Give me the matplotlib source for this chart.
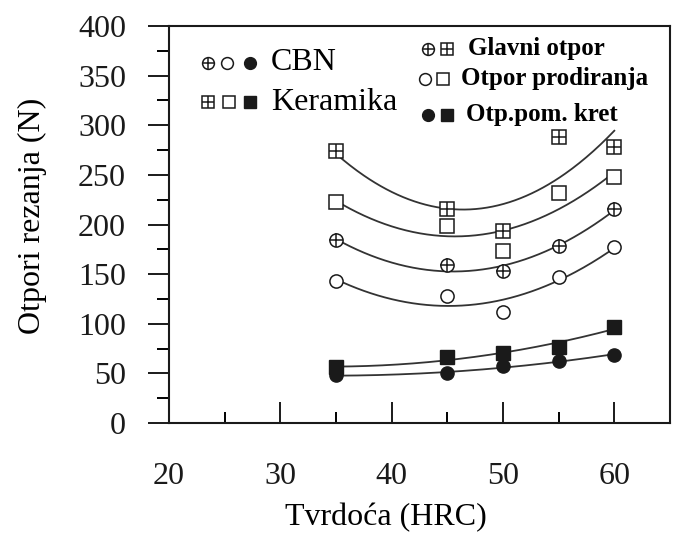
import numpy as np
import matplotlib
matplotlib.use("Agg")
import matplotlib.pyplot as plt
from matplotlib.ticker import MultipleLocator

# ---- data ----
hrc = [35, 45, 50, 55, 60]
cbn_glavni = [184, 159, 153, 178, 216]
cbn_prodiranja = [143, 128, 112, 147, 177]
cbn_pomocni = [48, 50, 57, 62, 69]
ker_glavni = [274, 216, 193, 288, 278]
ker_prodiranja = [223, 198, 173, 232, 248]
ker_pomocni = [56, 66, 71, 77, 97]

xticks = [20, 30, 40, 50, 60]
yticks = [0, 50, 100, 150, 200, 250, 300, 350, 400]
xlabel = "Tvrdoća (HRC)"
ylabel = "Otpori rezanja (N)"

SERIF = ["Liberation Serif", "DejaVu Serif"]
plt.rcParams["font.family"] = SERIF
C = "#1a1a1a"

fig = plt.figure(figsize=(6.73, 5.34), dpi=100)
ax = fig.add_axes([169/673, 1-423/534, 501/673, 397/534])
ax.set_xlim(20, 65)
ax.set_ylim(0, 400)

xs = np.linspace(min(hrc), max(hrc), 200)

def fit_curve(y):
    p = np.polyfit(hrc, y, 2)
    ax.plot(xs, np.polyval(p, xs), color="#333333", lw=1.3, zorder=2)

ms = 9.5
def circ_plus(x, y, s=ms, **kw):
    ax.plot(x, y, ls="none", marker="o", ms=s, mfc="white", mec=C, mew=1.1, zorder=3, **kw)
    ax.plot(x, y, ls="none", marker="+", ms=s, mec=C, mew=1.1, zorder=4, **kw)

def sq_plus(x, y, s=ms, **kw):
    ax.plot(x, y, ls="none", marker="s", ms=s, mfc="white", mec=C, mew=1.1, zorder=3, **kw)
    ax.plot(x, y, ls="none", marker="+", ms=s, mec=C, mew=1.1, zorder=4, **kw)

def open_m(x, y, m, s=ms, **kw):
    ax.plot(x, y, ls="none", marker=m, ms=s, mfc="white", mec=C, mew=1.1, zorder=3, **kw)

def fill_m(x, y, m, s=ms, **kw):
    ax.plot(x, y, ls="none", marker=m, ms=s, mfc=C, mec=C, mew=1.0, zorder=3, **kw)

for ser in [cbn_glavni, cbn_prodiranja, cbn_pomocni, ker_glavni, ker_prodiranja, ker_pomocni]:
    fit_curve(ser)

circ_plus(hrc, cbn_glavni)
open_m(hrc, cbn_prodiranja, "o")
fill_m(hrc, cbn_pomocni, "o")
sq_plus(hrc, ker_glavni)
open_m(hrc, ker_prodiranja, "s")
fill_m(hrc, ker_pomocni, "s")

# ---- legend (drawn as text + markers) ----
T = dict(transform=ax.transAxes, clip_on=False)
ls_ = 8.5
def ax_pt(px, py):
    return (px-169)/501, (423-py)/397

# left legend
x1, y1 = ax_pt(208, 63); x2, _ = ax_pt(227, 63); x3, _ = ax_pt(250, 63)
circ_plus([x1], [y1], s=ls_, **T); open_m([x2], [y1], "o", s=ls_, **T); fill_m([x3], [y1], "o", s=ls_, **T)
tx, _ = ax_pt(271, 63)
ax.text(tx, y1, "CBN", transform=ax.transAxes, fontsize=23, va="center", ha="left", color="black")
x1, y2 = ax_pt(208, 102); x2, _ = ax_pt(229, 102); x3, _ = ax_pt(250, 102)
sq_plus([x1], [y2], s=ls_, **T); open_m([x2], [y2], "s", s=ls_, **T); fill_m([x3], [y2], "s", s=ls_, **T)
ax.text(tx, y2, "Keramika", transform=ax.transAxes, fontsize=23, va="center", ha="left", color="black")

# right legend
a, r1 = ax_pt(428, 49); b, _ = ax_pt(447, 49)
circ_plus([a], [r1], s=ls_, **T); sq_plus([b], [r1], s=ls_, **T)
t1, _ = ax_pt(468, 49)
ax.text(t1, r1, "Glavni otpor", transform=ax.transAxes, fontsize=18, fontweight="bold", va="center", ha="left")
a, r2 = ax_pt(425, 79); b, _ = ax_pt(443, 79)
open_m([a], [r2], "o", s=ls_, **T); open_m([b], [r2], "s", s=ls_, **T)
t2, _ = ax_pt(461, 79)
ax.text(t2, r2, "Otpor prodiranja", transform=ax.transAxes, fontsize=18, fontweight="bold", va="center", ha="left")
a, r3 = ax_pt(428, 115); b, _ = ax_pt(447, 115)
fill_m([a], [r3], "o", s=ls_, **T); fill_m([b], [r3], "s", s=ls_, **T)
t3, _ = ax_pt(466, 115)
ax.text(t3, r3, "Otp.pom. kret", transform=ax.transAxes, fontsize=18, fontweight="bold", va="center", ha="left")

# ---- axes styling ----
for s in ax.spines.values():
    s.set_linewidth(1.5)
    s.set_color(C)

ax.set_xticks(xticks)
ax.xaxis.set_minor_locator(MultipleLocator(5))
ax.set_yticks(yticks)
ax.yaxis.set_minor_locator(MultipleLocator(25))
ax.tick_params(axis="x", which="major", direction="in", length=15, width=1.4, pad=28, labelsize=23, colors=C)
ax.tick_params(axis="x", which="minor", direction="in", length=8, width=1.4)
ax.tick_params(axis="y", which="major", direction="out", length=15, width=1.4, pad=16, labelsize=23, colors=C)
ax.tick_params(axis="y", which="minor", direction="out", length=9, width=1.4)

ax.set_xlabel(xlabel, fontsize=23)
ax.xaxis.set_label_coords(0.433, -0.237)
ax.xaxis.label.set_va("center")
ax.set_ylabel(ylabel, fontsize=23)
ax.yaxis.set_label_coords(-0.273, 0.521)
ax.yaxis.label.set_va("center")

fig.savefig("out.png", dpi=100, facecolor="white")
